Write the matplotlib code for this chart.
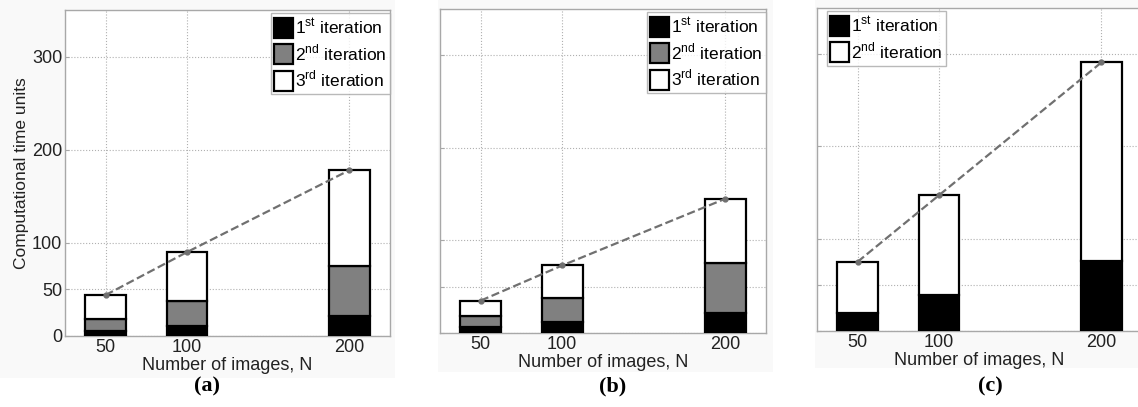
import matplotlib.pyplot as plt
import numpy as np
from matplotlib.patches import Rectangle

plt.rcParams['font.family'] = ['Liberation Sans', 'DejaVu Sans']
plt.rcParams['mathtext.fontset'] = 'custom'
plt.rcParams['mathtext.rm'] = 'Liberation Sans'

N = [50, 100, 200]

# (a) three iterations
a_first = [5, 11, 21]
a_second = [13, 27, 54]
a_third = [26, 52, 103]

# (b) three iterations
b_first = [6, 11.5, 21.5]
b_second = [12, 26.5, 54]
b_third = [17, 35, 69.5]

# (c) two iterations
c_first = [19.5, 39.5, 75.5]
c_second = [55.5, 107.5, 215.5]

labels = [r'1$^{\mathregular{st}}$ iteration',
          r'2$^{\mathregular{nd}}$ iteration',
          r'3$^{\mathregular{rd}}$ iteration']
yticks = [0, 50, 100, 200, 300]
captions = ['(a)', '(b)', '(c)']

W, H = 1138, 407
fig = plt.figure(figsize=(W / 100, H / 100), dpi=100)

# faint backgrounds of the pasted panels
for x0, x1, y1 in [(0, 395, 378), (438, 773, 372), (815, 1138, 368)]:
    fig.patches.append(Rectangle((x0 / W, 1 - y1 / H), (x1 - x0) / W, y1 / H,
                                 transform=fig.transFigure, facecolor='#f9f9f9',
                                 edgecolor='none', zorder=-10))


def make_ax(left, right, top, bottom):
    return fig.add_axes([left / W, 1 - bottom / H, (right - left) / W, (bottom - top) / H])


def draw(ax, segs, colors, nlab, legend_loc, anchor):
    bottom = np.zeros(len(N))
    handles = []
    for seg, col, lab in zip(segs, colors, labels[:nlab]):
        h = ax.bar(N, seg, width=25, bottom=bottom, color=col, edgecolor='black',
                   linewidth=1.6, label=lab, zorder=3)
        handles.append(h)
        bottom = bottom + np.array(seg)
    ax.plot(N, bottom, color='#707070', linestyle='--', linewidth=1.6,
            marker='o', markersize=3.5, zorder=4)
    ax.set_xlim(25, 225)
    ax.set_ylim(0, 350)
    ax.set_xticks(N)
    ax.set_yticks(yticks)
    ax.grid(True, linestyle=':', color='#b0b0b0', linewidth=0.8, zorder=0)
    ax.set_facecolor('white')
    for s in ax.spines.values():
        s.set_color('#a8a8a8')
        s.set_linewidth(1.0)
    ax.tick_params(direction='in', length=3, color='#a8a8a8', labelsize=13,
                   labelcolor='#222222', pad=2)
    ax.set_xlabel('Number of images, N', fontsize=13, color='#222222', labelpad=1)
    leg = ax.legend(handles=handles, loc=legend_loc, bbox_to_anchor=anchor,
                    fontsize=12.5, frameon=True, fancybox=False, borderpad=0.2,
                    handlelength=1.1, handleheight=1.4, handletextpad=0.1,
                    labelspacing=0.25, borderaxespad=0)
    leg.get_frame().set_edgecolor('#a8a8a8')
    leg.get_frame().set_linewidth(1.0)


ax1 = make_ax(65, 390, 10, 336)
draw(ax1, [a_first, a_second, a_third], ['black', '#808080', 'white'], 3,
     'upper right', (1.0, 0.99))
ax1.set_ylabel('Computational time units', fontsize=12.5, color='#222222', labelpad=2)

ax2 = make_ax(440, 766, 9, 333)
draw(ax2, [b_first, b_second, b_third], ['black', '#808080', 'white'], 3,
     'upper right', (1.0, 0.99))
ax2.set_yticklabels([])

ax3 = make_ax(817, 1142, 8, 331)
draw(ax3, [c_first, c_second], ['black', 'white'], 2,
     'upper left', (0.03, 0.99))
ax3.set_yticklabels([])

for cx, cap in zip([207, 613, 990], captions):
    fig.text(cx / W, 1 - 386 / H, cap, ha='center', va='center', fontsize=16,
             fontweight='bold', family=['Liberation Serif', 'DejaVu Serif'])

fig.savefig('out.png', dpi=100)
